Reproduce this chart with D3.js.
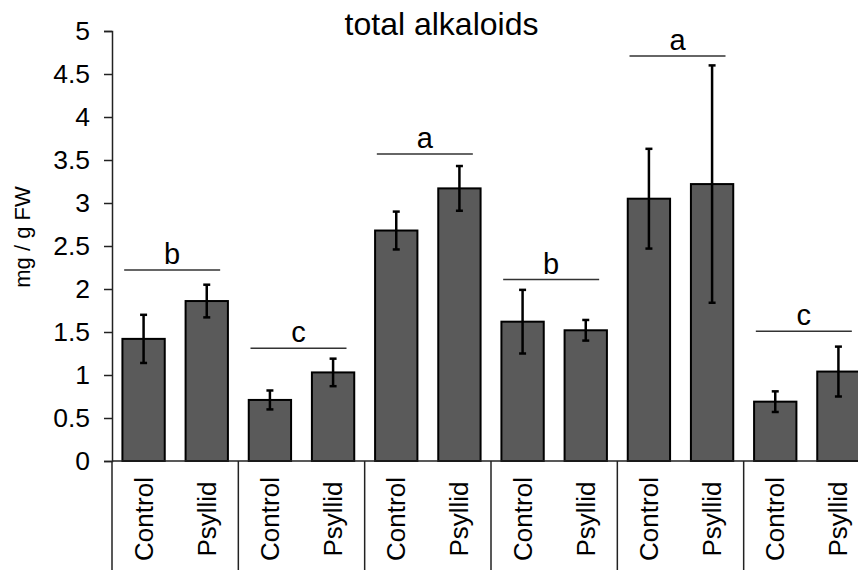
<!DOCTYPE html>
<html>
<head>
<meta charset="utf-8">
<script src="https://cdn.jsdelivr.net/npm/d3@7"></script>
<style>
  body { margin: 0; background: #fff; }
  svg { display: block; font-family: "Liberation Sans", Arial, sans-serif; }
</style>
</head>
<body>
<svg id="chart" width="858" height="570"></svg>
<script>
// data
var treatments = ["Control", "Psyllid"];
var groupIds = ["g1", "g2", "g3", "g4", "g5", "g6"];
var means = [1.42, 1.86, 0.71, 1.03, 2.68, 3.17, 1.62, 1.52, 3.05, 3.22, 0.69, 1.04];
var errors = [0.28, 0.19, 0.11, 0.16, 0.22, 0.26, 0.37, 0.12, 0.58, 1.38, 0.12, 0.29];
var letters = ["b", "c", "a", "b", "a", "c"];
var letterLevels = [2.22, 1.31, 3.57, 2.11, 4.71, 1.51];
var yTicks = [0, 0.5, 1, 1.5, 2, 2.5, 3, 3.5, 4, 4.5, 5];

var svg = d3.select("#chart"),
  margin = {top: 31, left: 112, bottom: 109},
  plotRight = 870, // plot runs past the right edge of the picture, as in the original
  height = 570 - margin.top - margin.bottom;

var bars = [];
groupIds.forEach(function(g, i) {
  treatments.forEach(function(t, j) {
    var k = i * 2 + j;
    bars.push({key: g + "-" + t, group: g, treatment: t, value: means[k], err: errors[k]});
  });
});

var x = d3.scaleBand()
  .domain(bars.map(function(d) { return d.key; }))
  .range([margin.left, plotRight])
  .paddingInner(0.33)
  .paddingOuter(0.165);

var xg = d3.scaleBand().domain(groupIds).range([margin.left, plotRight]);

var y = d3.scaleLinear().domain([0, 5]).range([margin.top + height, margin.top]);

// title
svg.append("text")
  .attr("x", 441.5)
  .attr("y", 35)
  .attr("text-anchor", "middle")
  .attr("font-size", 32)
  .attr("fill", "#000")
  .text("total alkaloids");

// y axis
var yAxis = svg.append("g")
  .attr("transform", "translate(" + margin.left + ",0)")
  .call(d3.axisLeft(y).tickValues(yTicks).tickSize(8).tickPadding(14).tickFormat(d3.format("")));
yAxis.select(".domain").attr("stroke", "#222").attr("stroke-width", 1.5);
yAxis.selectAll(".tick line").attr("stroke", "#222").attr("stroke-width", 1.5);
yAxis.selectAll(".tick text")
  .attr("font-size", 26.5)
  .attr("font-family", "Liberation Sans, Arial, sans-serif")
  .attr("fill", "#000");

svg.append("text")
  .attr("transform", "translate(22," + (margin.top + height / 2 - 9) + ") rotate(-90)")
  .attr("text-anchor", "middle")
  .attr("dominant-baseline", "central")
  .attr("font-size", 22)
  .attr("fill", "#000")
  .text("mg / g FW");

// bars
svg.selectAll(".bar")
  .data(bars)
  .enter()
  .append("rect")
    .attr("class", "bar")
    .attr("x", function(d) { return x(d.key); })
    .attr("y", function(d) { return y(d.value); })
    .attr("width", x.bandwidth())
    .attr("height", function(d) { return y(0) - y(d.value); })
    .attr("fill", "#5a5a5a")
    .attr("stroke", "#000")
    .attr("stroke-width", 2);

// error bars
var eb = svg.selectAll(".err")
  .data(bars)
  .enter()
  .append("g")
    .attr("class", "err")
    .attr("stroke", "#000")
    .attr("stroke-width", 2.5);
eb.append("line")
  .attr("x1", function(d) { return x(d.key) + x.bandwidth() / 2; })
  .attr("x2", function(d) { return x(d.key) + x.bandwidth() / 2; })
  .attr("y1", function(d) { return y(d.value + d.err); })
  .attr("y2", function(d) { return y(d.value - d.err); });
[1, -1].forEach(function(s) {
  eb.append("line")
    .attr("x1", function(d) { return x(d.key) + x.bandwidth() / 2 - 3.5; })
    .attr("x2", function(d) { return x(d.key) + x.bandwidth() / 2 + 3.5; })
    .attr("y1", function(d) { return y(d.value + s * d.err); })
    .attr("y2", function(d) { return y(d.value + s * d.err); });
});

// x axis line and group separators
svg.append("line")
  .attr("x1", margin.left).attr("x2", plotRight)
  .attr("y1", y(0)).attr("y2", y(0))
  .attr("stroke", "#222").attr("stroke-width", 1.5);

svg.selectAll(".sep")
  .data(groupIds.concat(["end"]))
  .enter()
  .append("line")
    .attr("class", "sep")
    .attr("x1", function(d, i) { return margin.left + i * xg.step(); })
    .attr("x2", function(d, i) { return margin.left + i * xg.step(); })
    .attr("y1", y(0))
    .attr("y2", 570)
    .attr("stroke", "#222")
    .attr("stroke-width", 1.5);

// category labels
svg.selectAll(".cat")
  .data(bars)
  .enter()
  .append("text")
    .attr("class", "cat")
    .attr("transform", function(d) {
      return "translate(" + (x(d.key) + x.bandwidth() / 2) + ",519) rotate(-90)";
    })
    .attr("text-anchor", "middle")
    .attr("dominant-baseline", "central")
    .attr("font-size", 26)
    .attr("fill", "#000")
    .text(function(d) { return d.treatment; });

// significance brackets
var sig = svg.selectAll(".sig")
  .data(groupIds)
  .enter()
  .append("g")
    .attr("class", "sig");
sig.append("line")
  .attr("x1", function(d) { return xg(d) + xg.bandwidth() / 2 - 51; })
  .attr("x2", function(d) { return xg(d) + xg.bandwidth() / 2 + 45; })
  .attr("y1", function(d, i) { return y(letterLevels[i]); })
  .attr("y2", function(d, i) { return y(letterLevels[i]); })
  .attr("stroke", "#333")
  .attr("stroke-width", 1.5);
sig.append("text")
  .attr("x", function(d) { return xg(d) + xg.bandwidth() / 2 - 3; })
  .attr("y", function(d, i) { return y(letterLevels[i]) - 6; })
  .attr("text-anchor", "middle")
  .attr("font-size", 29)
  .attr("fill", "#000")
  .text(function(d, i) { return letters[i]; });
</script>
</body>
</html>
